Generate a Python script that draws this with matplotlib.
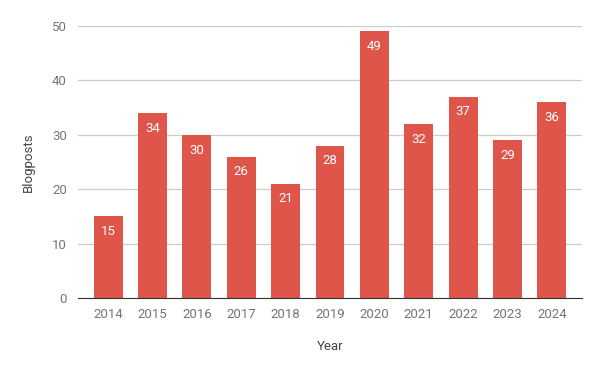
import matplotlib.pyplot as plt

years = ["2014", "2015", "2016", "2017", "2018", "2019", "2020", "2021", "2022", "2023", "2024"]
posts = [15, 34, 30, 26, 21, 28, 49, 32, 37, 29, 36]

plt.rcParams["font.family"] = ["Roboto", "DejaVu Sans"]

fig = plt.figure(figsize=(6, 3.71), dpi=100)
ax = fig.add_axes([0.13, 0.197, 0.84, 0.733])

x = range(len(years))
bars = ax.bar(x, posts, width=0.65, color="#e0554a", zorder=3)
for b, v in zip(bars, posts):
    ax.annotate(str(v), (b.get_x() + b.get_width() / 2, v), xytext=(0, -11),
                textcoords="offset points", ha="center", va="center",
                color="white", fontsize=9.5, zorder=4)

ax.set_xlim(-0.68, len(years) - 1 + 0.68)
ax.set_ylim(0, 50)
ax.set_yticks(range(0, 51, 10))
ax.set_xticks(list(x))
ax.set_xticklabels(years)
ax.grid(axis="y", color="#cccccc", linewidth=0.9, zorder=0)
for s in ["top", "right", "left"]:
    ax.spines[s].set_visible(False)
ax.spines["bottom"].set_color("#333333")
ax.spines["bottom"].set_zorder(5)
ax.tick_params(length=0, colors="#757575", labelsize=9.5)
ax.tick_params(axis="x", pad=7)
ax.tick_params(axis="y", pad=8)
ax.set_xlabel("Year", fontsize=9.5, color="#444444", labelpad=14)
ax.set_ylabel("Blogposts", fontsize=9.5, color="#444444", labelpad=12)

fig.savefig("out.png", dpi=100)
